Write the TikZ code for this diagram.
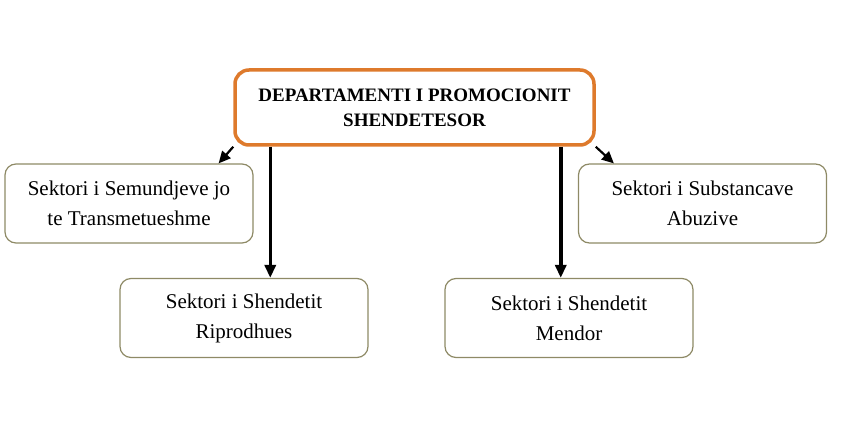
\documentclass[tikz,border=0pt]{standalone}
\usepackage{fontspec}
\setmainfont{Liberation Serif}
\usetikzlibrary{arrows.meta}

\definecolor{deptorange}{HTML}{DE7A2C}
\definecolor{sectorline}{HTML}{8E8A66}

\begin{document}
\begin{tikzpicture}[x=1pt, y=-1pt,
    dept/.style={draw=deptorange, line width=3.5pt, rounded corners=14pt, fill=white,
        minimum width=359pt, minimum height=75pt, inner sep=0pt, align=center,
        font=\fontsize{19}{25}\selectfont\bfseries},
    sector/.style={draw=sectorline, line width=1.2pt, rounded corners=11pt,
        minimum width=248pt, minimum height=79pt, inner sep=0pt, align=center,
        font=\fontsize{21}{30}\selectfont},
    link/.style={line width=3.5pt, -{Triangle[length=13pt, width=11pt]}},
    slant/.style={line width=2.2pt, -{Triangle[length=12pt, width=11pt]}}]

        % Fix the page size
        \useasboundingbox (0,0) rectangle (847,435);

        % Draw the department box
        \node[dept] (dept) at (414.5,107.5) {DEPARTAMENTI I PROMOCIONIT\\SHENDETESOR};

        % Draw the sector boxes
        \foreach \name/\x/\y/\txt in {nontrans/129/203.5/{Sektori i Semundjeve jo\\te Transmetueshme},
            abuse/702.5/203.5/{Sektori i Substancave\\Abuzive},
            repro/244/318/{Sektori i Shendetit\\Riprodhues},
            mental/569/318/{Sektori i Shendetit\\Mendor}}
        {
            \node[sector] (\name) at (\x,\y) {\txt};
        }

        % Add arrows from the department
        \draw[slant] (dept.south west) -- ([xshift=-35pt]nontrans.north east);
        \draw[slant] (dept.south east) -- ([xshift=36pt]abuse.north west);
        \draw[link] ([xshift=37pt]dept.south west) -- ([xshift=37pt]dept.south west |- repro.north);
        \draw[link] ([xshift=-35pt]dept.south east) -- ([xshift=-35pt]dept.south east |- mental.north);
    \end{tikzpicture}
\end{document}
